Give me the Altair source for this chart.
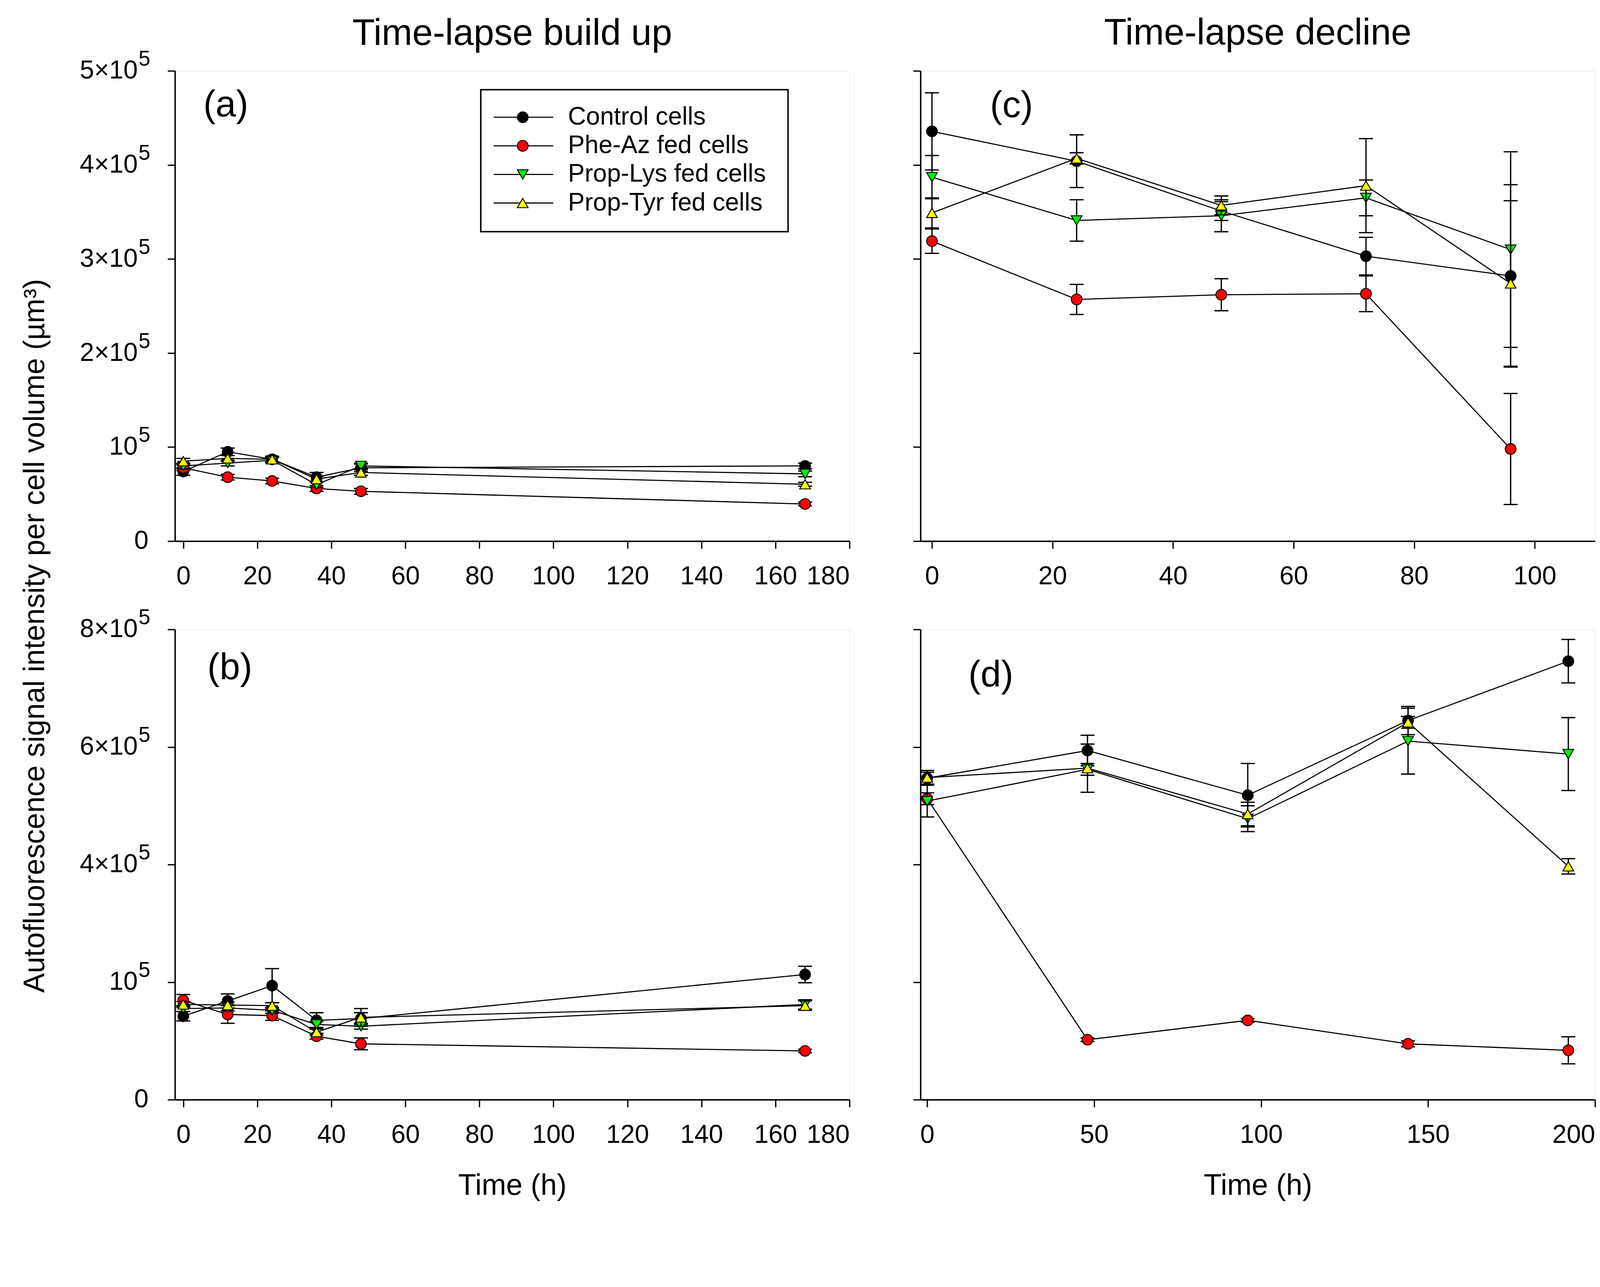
import altair as alt
import pandas as pd

FONT = "Liberation Sans"

SERIES = ["Control cells", "Phe-Az fed cells", "Prop-Lys fed cells", "Prop-Tyr fed cells"]
FILLS = ["#000000", "#ff0000", "#00ee00", "#ffff00"]
SHAPES = ["circle", "circle", "triangle-down", "triangle-up"]

# ---------------- panel (a): time-lapse build up ----------------
A_TIME = [0, 12, 24, 36, 48, 168]
A_CONTROL = [74000, 95000, 87000, 68000, 78000, 80000]
A_CONTROL_ERR = [4000, 4000, 3000, 5000, 4000, 3000]
A_PHEAZ = [78000, 68000, 64000, 56000, 53000, 39500]
A_PHEAZ_ERR = [3000, 3000, 3000, 3000, 3000, 2000]
A_PROPLYS = [80000, 83000, 86000, 60000, 80000, 71500]
A_PROPLYS_ERR = [3000, 3000, 3000, 3000, 3000, 3000]
A_PROPTYR = [85000, 88000, 87000, 66000, 73000, 60500]
A_PROPTYR_ERR = [3000, 3000, 3000, 3000, 3000, 2000]

# ---------------- panel (b): time-lapse build up ----------------
B_TIME = [0, 12, 24, 36, 48, 168]
B_CONTROL = [142000, 168000, 194000, 135000, 138000, 213000]
B_CONTROL_ERR = [8000, 12000, 29000, 13000, 10000, 14000]
B_PHEAZ = [169000, 145000, 143000, 108000, 95000, 83000]
B_PHEAZ_ERR = [10000, 15000, 8000, 5000, 10000, 3000]
B_PROPLYS = [155000, 156000, 152000, 128000, 125000, 162000]
B_PROPLYS_ERR = [5000, 5000, 5000, 5000, 5000, 8000]
B_PROPTYR = [162000, 161000, 160000, 115000, 140000, 160000]
B_PROPTYR_ERR = [5000, 5000, 5000, 5000, 15000, 8000]

# ---------------- panel (c): time-lapse decline ----------------
C_TIME = [0, 24, 48, 72, 96]
C_CONTROL = [435700, 404000, 351000, 303000, 282000]
C_CONTROL_ERR = [41000, 28000, 10000, 20000, 97000]
C_PHEAZ = [319000, 257000, 262000, 263000, 98000]
C_PHEAZ_ERR = [13000, 16000, 17000, 19000, 59000]
C_PROPLYS = [387000, 341000, 346000, 365000, 310000]
C_PROPLYS_ERR = [23000, 22000, 17000, 19000, 104000]
C_PROPTYR = [349000, 407000, 357000, 378000, 274000]
C_PROPTYR_ERR = [16000, 6000, 10000, 50000, 88000]

# ---------------- panel (d): time-lapse decline ----------------
D_TIME = [0, 48, 96, 144, 192]
D_CONTROL = [547000, 594000, 518000, 645000, 746000]
D_CONTROL_ERR = [10000, 26000, 54000, 24000, 37000]
D_PHEAZ = [512000, 102000, 135000, 95000, 84000]
D_PHEAZ_ERR = [10000, 3000, 3000, 5000, 23000]
D_PROPLYS = [508000, 562000, 478000, 610000, 588000]
D_PROPLYS_ERR = [27000, 10000, 22000, 56000, 62000]
D_PROPTYR = [548000, 564000, 486000, 642000, 397000]
D_PROPTYR_ERR = [12000, 41000, 20000, 10000, 13000]

# axis ticks and their printed labels (mantissa part and superscript exponent)
TOP_Y_TICKS = [0, 100000, 200000, 300000, 400000, 500000]
TOP_Y_BASE = ["0", "10", "2×10", "3×10", "4×10", "5×10"]
TOP_Y_EXP = ["", "5", "5", "5", "5", "5"]
BOT_Y_TICKS = [0, 200000, 400000, 600000, 800000]
BOT_Y_BASE = ["0", "10", "4×10", "6×10", "8×10"]
BOT_Y_EXP = ["", "5", "5", "5", "5"]
AB_X_TICKS = [0, 20, 40, 60, 80, 100, 120, 140, 160, 180]
C_X_TICKS = [0, 20, 40, 60, 80, 100]
D_X_TICKS = [0, 50, 100, 150, 200]

Y_TITLE = "Autofluorescence signal intensity per cell volume (µm³)"
X_TITLE = "Time (h)"

W, H = 1833, 1278


def make_df(times, vals_list, errs_list):
    rows = []
    for k, (s, vals, errs) in enumerate(zip(SERIES, vals_list, errs_list)):
        for t, v, e in zip(times, vals, errs):
            rows.append({"series": s, "k": k, "time": t, "value": v, "lo": v - e, "hi": v + e})
    return pd.DataFrame(rows)


AX = dict(domainColor="black", domainWidth=4, tickColor="black", tickWidth=3.5, tickSize=20,
          labelFont=FONT, labelFontSize=70, labelColor="black", labelLimit=1000, grid=False,
          titleFont=FONT, titleFontSize=80, titleColor="black", titleFontWeight="normal")


def legend_layers():
    out = [alt.Chart(pd.DataFrame({"b": [0]})).mark_rect(
        fill="white", fillOpacity=0, stroke="black", strokeWidth=4
    ).encode(x=alt.value(831), x2=alt.value(1666), y=alt.value(51), y2=alt.value(437))]
    for i, s in enumerate(SERIES):
        yrow = 126 + 77.7 * i
        ld = alt.Chart(pd.DataFrame({"series": [s]}))
        out.append(ld.mark_rule(color="black", strokeWidth=3).encode(
            x=alt.value(866), x2=alt.value(1028), y=alt.value(yrow)))
        out.append(ld.mark_point(shape=SHAPES[i], filled=True, fill=FILLS[i], stroke="black",
                                 strokeWidth=2.5, size=850, opacity=1).encode(
            x=alt.value(945), y=alt.value(yrow)))
        out.append(ld.mark_text(align="left", baseline="middle", fontSize=68, font=FONT,
                                color="black").encode(
            x=alt.value(1068), y=alt.value(yrow), text="series:N"))
    return out


def ytick_label_layers(yticks, ybase, yexp, Y):
    c = alt.Chart(pd.DataFrame({"tick": yticks, "base": ybase, "exp": yexp}))
    plain = c.transform_filter("datum.exp == ''")
    powered = c.transform_filter("datum.exp != ''")
    txt = dict(align="right", baseline="middle", font=FONT, color="black")
    return [
        plain.mark_text(fontSize=70, **txt).encode(x=alt.value(-72), y=Y("tick:Q"), text="base:N"),
        powered.mark_text(fontSize=70, **txt).encode(x=alt.value(-101), y=Y("tick:Q"), text="base:N"),
        powered.mark_text(fontSize=58, dy=-31, **txt).encode(x=alt.value(-67), y=Y("tick:Q"), text="exp:N"),
    ]


def panel(df, xdom, xticks, ydom, yticks, ybase, yexp, show_ylabels, xtitle, tag, tagx, tagy,
          head=None, head_offset=50, ytitle=False, legend=False):
    if xtitle:
        xaxis = alt.Axis(values=xticks, title=xtitle, labelPadding=42, titlePadding=64, **AX)
    else:
        xaxis = alt.Axis(values=xticks, title=None, labelPadding=42, **AX)
    if ytitle:
        yaxis = alt.Axis(values=yticks, labels=False,
                         title=Y_TITLE, titleX=-339, titleY=1535, titleAngle=270,
                         titleAlign="center", titleBaseline="bottom", **AX)
    else:
        yaxis = alt.Axis(values=yticks, labels=False, title=None, **AX)

    xscale = alt.Scale(domain=xdom, nice=False, zero=False)
    yscale = alt.Scale(domain=ydom, nice=False, zero=False)

    def X():
        return alt.X("time:Q", scale=xscale, axis=xaxis)

    def Y(f):
        return alt.Y(f, scale=yscale, axis=yaxis)

    base = alt.Chart(df)
    layers = []

    for i, s in enumerate(SERIES):
        d = base.transform_filter(alt.datum.series == s)
        layers.append(d.mark_rule(color="black", strokeWidth=3.5).encode(x=X(), y=Y("lo:Q"), y2="hi:Q"))
        layers.append(d.mark_tick(orient="horizontal", size=38, thickness=3.5, color="black",
                                  opacity=1).encode(x=X(), y=Y("lo:Q")))
        layers.append(d.mark_tick(orient="horizontal", size=38, thickness=3.5, color="black",
                                  opacity=1).encode(x=X(), y=Y("hi:Q")))
        layers.append(d.mark_line(color="black", strokeWidth=3).encode(x=X(), y=Y("value:Q")))
        layers.append(d.mark_point(shape=SHAPES[i], filled=True, fill=FILLS[i], stroke="black",
                                   strokeWidth=2.5, size=850, opacity=1).encode(x=X(), y=Y("value:Q")))

    if show_ylabels:
        layers.extend(ytick_label_layers(yticks, ybase, yexp, Y))

    tag_layer = alt.Chart(pd.DataFrame({"tag": [tag]})).mark_text(
        align="left", baseline="top", fontSize=100, font=FONT, color="black"
    ).encode(x=alt.value(tagx), y=alt.value(tagy), text="tag:N")
    layers.append(tag_layer)

    if legend:
        layers.extend(legend_layers())

    ch = alt.layer(*layers).properties(width=W, height=H)
    if head:
        ch = ch.properties(title=alt.TitleParams(text=head, fontSize=100, font=FONT, fontWeight="normal",
                                                 color="black", offset=head_offset, anchor="middle"))
    return ch


df_a = make_df(A_TIME, [A_CONTROL, A_PHEAZ, A_PROPLYS, A_PROPTYR],
               [A_CONTROL_ERR, A_PHEAZ_ERR, A_PROPLYS_ERR, A_PROPTYR_ERR])
df_b = make_df(B_TIME, [B_CONTROL, B_PHEAZ, B_PROPLYS, B_PROPTYR],
               [B_CONTROL_ERR, B_PHEAZ_ERR, B_PROPLYS_ERR, B_PROPTYR_ERR])
df_c = make_df(C_TIME, [C_CONTROL, C_PHEAZ, C_PROPLYS, C_PROPTYR],
               [C_CONTROL_ERR, C_PHEAZ_ERR, C_PROPLYS_ERR, C_PROPTYR_ERR])
df_d = make_df(D_TIME, [D_CONTROL, D_PHEAZ, D_PROPLYS, D_PROPTYR],
               [D_CONTROL_ERR, D_PHEAZ_ERR, D_PROPLYS_ERR, D_PROPTYR_ERR])

pa = panel(df_a, [-2.25, 180], AB_X_TICKS, [0, 500000], TOP_Y_TICKS, TOP_Y_BASE, TOP_Y_EXP, True, None,
           "(a)", 77, 45, head="Time-lapse build up", head_offset=-10, ytitle=True, legend=True)
pc = panel(df_c, [-1.9, 110], C_X_TICKS, [0, 500000], TOP_Y_TICKS, TOP_Y_BASE, TOP_Y_EXP, False, None,
           "(c)", 189, 47, head="Time-lapse decline", head_offset=49)
pb = panel(df_b, [-2.25, 180], AB_X_TICKS, [0, 800000], BOT_Y_TICKS, BOT_Y_BASE, BOT_Y_EXP, True, X_TITLE,
           "(b)", 88, 56)
pd_ = panel(df_d, [-2, 200], D_X_TICKS, [0, 800000], BOT_Y_TICKS, BOT_Y_BASE, BOT_Y_EXP, False, X_TITLE,
            "(d)", 130, 77)

chart = alt.concat(
    pa, pc, pb, pd_, columns=2, spacing={"row": 240, "column": 193}, bounds="flush"
).properties(
    padding={"left": 46, "top": -64, "right": 2, "bottom": -66},
    background="white",
).configure_view(stroke="black", strokeWidth=4).configure(font=FONT)

chart.save("out.html", embed_options={"renderer": "svg", "actions": False})
